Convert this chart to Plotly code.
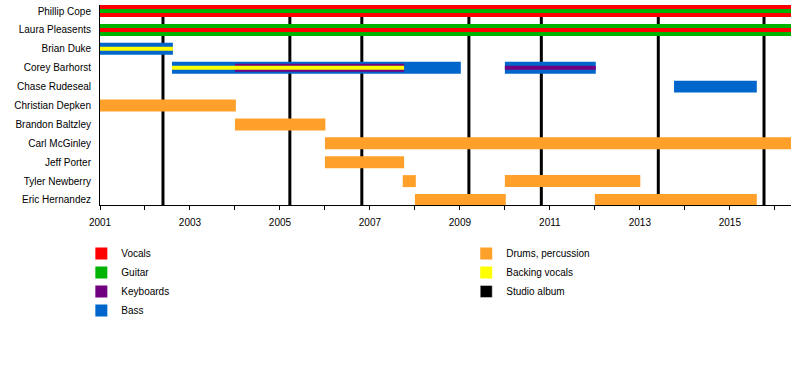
import plotly.graph_objects as go

# ---------------- data ----------------
members = ["Phillip Cope", "Laura Pleasents", "Brian Duke", "Corey Barhorst",
           "Chase Rudeseal", "Christian Depken", "Brandon Baltzley", "Carl McGinley",
           "Jeff Porter", "Tyler Newberry", "Eric Hernandez"]

END = 2016.36

# outer (full-height) bars: member, start, end
vocals_outer = [("Phillip Cope", 2001.0, END)]
guitar_outer = [("Laura Pleasents", 2001.0, END)]
bass_outer = [("Brian Duke", 2001.0, 2002.62),
              ("Corey Barhorst", 2002.6, 2009.02),
              ("Corey Barhorst", 2010.0, 2012.02),
              ("Chase Rudeseal", 2013.76, 2015.6)]
drums_outer = [("Christian Depken", 2001.0, 2004.02),
               ("Brandon Baltzley", 2004.0, 2006.01),
               ("Carl McGinley", 2006.0, END),
               ("Jeff Porter", 2006.0, 2007.76),
               ("Tyler Newberry", 2007.73, 2008.02),
               ("Tyler Newberry", 2010.0, 2013.01),
               ("Eric Hernandez", 2008.0, 2010.02),
               ("Eric Hernandez", 2012.0, 2015.6)]
# middle bars
keyboards_middle = [("Corey Barhorst", 2004.0, 2007.76)]
# inner bars
guitar_inner = [("Phillip Cope", 2001.0, END)]
vocals_inner = [("Laura Pleasents", 2001.0, END)]
backing_inner = [("Brian Duke", 2001.0, 2002.62),
                 ("Corey Barhorst", 2002.6, 2007.76)]
keyboards_inner = [("Corey Barhorst", 2010.0, 2012.02)]

albums = [2002.4, 2005.22, 2006.82, 2009.2, 2010.81, 2013.41, 2015.76]

year_ticks = [2001, 2003, 2005, 2007, 2009, 2011, 2013, 2015]

# ---------------- styles ----------------
colors = {
    "Vocals": "#FF0000",
    "Guitar": "#00B300",
    "Keyboards": "#700080",
    "Bass": "#0066CC",
    "Drums, percussion": "#FFA02A",
    "Backing vocals": "#FFFF00",
    "Studio album": "#000000",
}
legend_of = {"Vocals": "legend", "Guitar": "legend", "Keyboards": "legend", "Bass": "legend",
             "Drums, percussion": "legend2", "Backing vocals": "legend2", "Studio album": "legend2"}
rank = {"Vocals": 1, "Guitar": 2, "Keyboards": 3, "Bass": 4,
        "Drums, percussion": 5, "Backing vocals": 6, "Studio album": 7}

ROW_PX = 18.9
W_OUT = 12 / ROW_PX
W_MID = 8 / ROW_PX
W_IN = 4 / ROW_PX

fig = go.Figure()
shown = set()


def add(role, segs, width):
    if not segs:
        return
    show = role not in shown
    shown.add(role)
    fig.add_trace(go.Bar(
        orientation="h",
        y=[s[0] for s in segs],
        base=[s[1] for s in segs],
        x=[s[2] - s[1] for s in segs],
        width=width,
        marker=dict(color=colors[role], line=dict(width=0)),
        name=role,
        legendgroup=role,
        showlegend=show,
        legend=legend_of[role],
        legendrank=rank[role],
        hoverinfo="skip",
    ))


add("Vocals", vocals_outer, W_OUT)
add("Guitar", guitar_outer, W_OUT)
add("Bass", bass_outer, W_OUT)
add("Drums, percussion", drums_outer, W_OUT)
add("Keyboards", keyboards_middle, W_MID)
add("Guitar", guitar_inner, W_IN)
add("Vocals", vocals_inner, W_IN)
add("Backing vocals", backing_inner, W_IN)
add("Keyboards", keyboards_inner, W_IN)

# legend-only entry for studio albums
fig.add_trace(go.Bar(orientation="h", x=[None], y=[None], name="Studio album",
                     marker=dict(color=colors["Studio album"]),
                     legend="legend2", legendrank=rank["Studio album"], showlegend=True))

for a in albums:
    fig.add_shape(type="line", xref="x", yref="paper", x0=a, x1=a, y0=0, y1=1,
                  line=dict(color="black", width=3), layer="below")

FONT = "Liberation Sans, Arial, sans-serif"

fig.update_layout(
    width=800, height=365,
    margin=dict(l=100, r=9, t=5, b=160),
    paper_bgcolor="white", plot_bgcolor="white",
    barmode="overlay",
    font=dict(family=FONT, size=10, color="black"),
    xaxis=dict(
        range=[2001, END], tickvals=year_ticks, ticktext=[str(t) for t in year_ticks],
        ticks="outside", ticklen=4, tickwidth=1, tickcolor="black",
        minor=dict(dtick=1, tick0=2001, ticks="outside", ticklen=4, tickcolor="black", showgrid=False),
        showline=True, linecolor="black", linewidth=1, showgrid=False, zeroline=False,
        tickfont=dict(size=10), ticklabelstandoff=4,
    ),
    yaxis=dict(
        type="category", categoryorder="array", categoryarray=members,
        range=[10.265, -0.32], showline=True, linecolor="black", linewidth=1,
        showgrid=False, zeroline=False, ticks="", ticklabelstandoff=6,
        tickfont=dict(size=10),
    ),
    legend=dict(x=-0.027, xanchor="left", y=-0.17, yanchor="top",
                font=dict(size=10), traceorder="normal", itemwidth=30,
                bgcolor="rgba(0,0,0,0)", tracegroupgap=0),
    legend2=dict(x=0.53, xanchor="left", y=-0.17, yanchor="top",
                 font=dict(size=10), traceorder="normal", itemwidth=30,
                 bgcolor="rgba(0,0,0,0)", tracegroupgap=0),
    showlegend=True,
)

fig.write_html("out.html", config={"displayModeBar": False},
               post_script="document.body.style.margin='0';")
